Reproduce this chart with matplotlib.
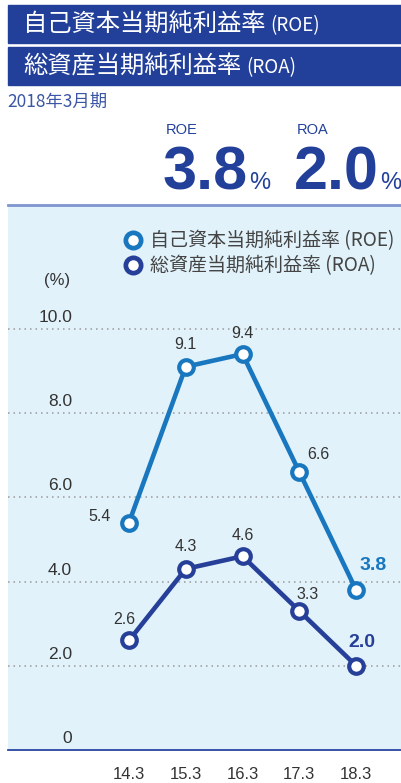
import matplotlib.pyplot as plt
from matplotlib.patches import Rectangle
from matplotlib.lines import Line2D

# data
years = ['14.3', '15.3', '16.3', '17.3', '18.3']
roe = [5.4, 9.1, 9.4, 6.6, 3.8]
roa = [2.6, 4.3, 4.6, 3.3, 2.0]
yticks = [0, 2.0, 4.0, 6.0, 8.0, 10.0]
ytick_labels = ['0', '2.0', '4.0', '6.0', '8.0', '10.0']

# label offsets (pixels) for each point
roe_offsets = [(-29, 6), (0, 22), (0, 21), (19, 18), (17, 24)]
roa_offsets = [(-5, 21), (0, 22), (0, 21), (8, 17), (6, 23)]

W, H = 401, 783
NAVY = '#22409A'
ROE_C = '#1877BE'
ROA_C = '#263F98'
JP = ['Noto Sans CJK JP', 'DejaVu Sans']
NUM = ['Liberation Sans Narrow', 'Liberation Sans', 'DejaVu Sans']

fig = plt.figure(figsize=(W / 100, H / 100), dpi=100)


def fx(x):
    return x / W


def fy(y):
    return 1 - y / H


# header bars
for top, bot, jp, en in [(5, 43, '自己資本当期純利益率', '(ROE)'),
                         (47, 85, '総資産当期純利益率', '(ROA)')]:
    fig.patches.append(Rectangle((fx(8), fy(bot)), fx(393), (bot - top) / H,
                                 transform=fig.transFigure, color=NAVY, zorder=0))
    t = fig.text(fx(23), fy((top + bot) / 2 + 1), jp, color='white', fontsize=17.5,
                 family=JP, va='center', ha='left')
    fig.canvas.draw()
    bb = t.get_window_extent()
    fig.text(bb.x1 / W + fx(5), fy((top + bot) / 2 + 2), en, color='white',
             fontsize=13.5, family=JP, va='center', ha='left')

fig.text(fx(7), fy(102), '2018年3月期', color='#3A56A5', fontsize=12.5, family=JP,
         va='center', ha='left')

# headline numbers
for x0, name, val in [(166, 'ROE', roe[-1]), (297, 'ROA', roa[-1])]:
    fig.text(fx(x0), fy(130), name, color=NAVY, fontsize=10.5,
             family=['Liberation Sans', 'DejaVu Sans'], va='center', ha='left')
    t = fig.text(fx(x0 - 3), fy(189), f'{val:.1f}', color=NAVY, fontsize=44,
                 fontweight='bold', family=['Liberation Sans', 'DejaVu Sans'],
                 va='baseline', ha='left')
    fig.canvas.draw()
    bb = t.get_window_extent()
    fig.text(bb.x1 / W + fx(1), fy(189), '%', color=NAVY, fontsize=17,
             family=['Liberation Sans', 'DejaVu Sans'], va='baseline', ha='left')

# chart panel
ax = fig.add_axes([fx(8), fy(750), fx(393), 545 / H])
ax.set_facecolor('#E1F2FA')
x = list(range(len(years)))
ax.set_xlim(-2.13, 4.79)
ax.set_ylim(0, 12.94)

for v in yticks[1:]:
    ax.axhline(v, color='#9A9A9A', lw=1.1, ls=(0, (1, 2.6)), zorder=1)
for v, lab in zip(yticks, ytick_labels):
    ax.annotate(lab, (0.163, v), xycoords=ax.get_yaxis_transform(),
                xytext=(0, 4), textcoords='offset pixels', ha='right', va='bottom',
                fontsize=12.5, family=NUM, color='#333333')
fig.text(fx(57), fy(280), '(%)', fontsize=12, family=NUM,
         color='#333333', ha='center', va='center')

for vals, col, offs in [(roe, ROE_C, roe_offsets), (roa, ROA_C, roa_offsets)]:
    ax.plot(x, vals, color=col, lw=3.3, marker='o', ms=10.5, mfc='white',
            mec=col, mew=3.0, zorder=3, solid_capstyle='round')
    for i, (xi, v) in enumerate(zip(x, vals)):
        last = i == len(vals) - 1
        ax.annotate(f'{v:.1f}', (xi, v), xytext=offs[i], textcoords='offset pixels',
                    ha='center', va='center', family=NUM,
                    fontsize=14 if last else 11.5,
                    fontweight='bold' if last else 'normal',
                    color=col if last else '#333333', zorder=4)

ax.set_xticks(x)
ax.set_xticklabels(years, fontsize=12, family=NUM, color='#333333')
ax.tick_params(axis='x', length=0, pad=12)
ax.set_yticks([])
for s in ['left', 'right']:
    ax.spines[s].set_visible(False)
ax.spines['bottom'].set_color('#2A45A0')
ax.spines['bottom'].set_linewidth(1.3)
ax.spines['top'].set_color('#7F95CF')
ax.spines['top'].set_linewidth(2)

handles = [Line2D([], [], ls='none', marker='o', ms=11, mfc='white', mec=ROE_C, mew=3.4),
           Line2D([], [], ls='none', marker='o', ms=11, mfc='white', mec=ROA_C, mew=3.4)]
leg = fig.legend(handles, ['自己資本当期純利益率 (ROE)', '総資産当期純利益率 (ROA)'],
                 loc='upper left', bbox_to_anchor=(fx(112), fy(221)),
                 frameon=False, handletextpad=0.3, labelspacing=0.2,
                 handlelength=1.2, borderpad=0,
                 prop={'family': JP, 'size': 13.7})
for t in leg.get_texts():
    t.set_color('#444444')

fig.savefig('out.png', dpi=100)
